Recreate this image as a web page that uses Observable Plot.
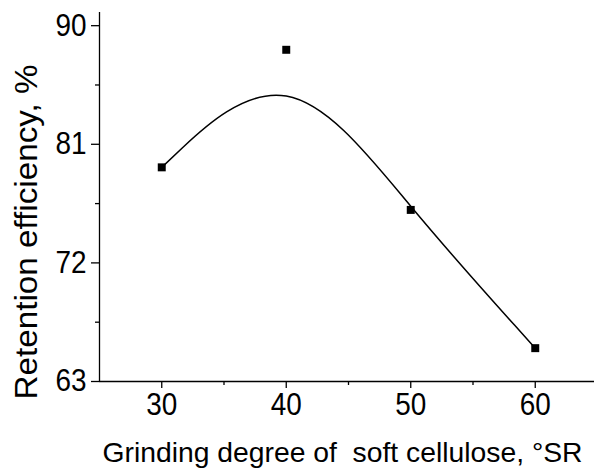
<!DOCTYPE html>
<html>
<head>
<meta charset="utf-8">
<script src="https://cdn.jsdelivr.net/npm/d3@7"></script>
<script src="https://cdn.jsdelivr.net/npm/@observablehq/plot@0.6"></script>
<style>
  html, body { margin: 0; padding: 0; background: #fff; overflow: hidden; }
</style>
</head>
<body>
<div id="chart"></div>
<script>
// Grinding degree (°SR) and measured retention efficiency (%)
const degree = [30, 40, 50, 60];
const retention = [79.25, 88.17, 76.02, 65.53];

// Axis ticks
const xTicks = [30, 40, 50, 60];
const xMinor = [35, 45, 55];
const yTicks = [63, 72, 81, 90];
const yMinor = [67.5, 76.5, 85.5];

const xLabel = "Grinding degree of  soft cellulose, °SR";
const yLabel = "Retention efficiency, %";

const data = degree.map((d, i) => ({degree: d, retention: retention[i]}));
const font = "'Liberation Sans', Arial, Helvetica, sans-serif";

const chart = Plot.plot({
  width: 594,
  height: 471,
  marginLeft: 99,
  marginRight: 0,
  marginTop: 12,
  marginBottom: 90,
  style: {fontFamily: font, background: "#fff", color: "#000"},
  x: {domain: [25, 65], range: [99, 597], label: null},
  y: {domain: [63, 91], range: [381, 12], label: null},
  marks: [
    // major and minor ticks, drawn outward
    Plot.axisX(xTicks, {tickSize: 7, tickPadding: 4, fontSize: 31, strokeWidth: 1.3, label: null}),
    Plot.axisX(xMinor, {tickSize: 4, strokeWidth: 1.3, fill: "none", label: null}),
    Plot.axisY(yTicks, {tickSize: 8, tickPadding: 5, fontSize: 31, strokeWidth: 1.3, label: null}),
    Plot.axisY(yMinor, {tickSize: 4, strokeWidth: 1.3, fill: "none", label: null}),
    // axis lines
    Plot.ruleX([25], {y1: 63, y2: 91, strokeWidth: 1.3}),
    Plot.ruleY([63], {x1: 25, x2: 65, strokeWidth: 1.3}),
    // B-spline through the measured points
    Plot.line(data, {x: "degree", y: "retention", curve: "basis", stroke: "#000", strokeWidth: 1.5}),
    Plot.dot(data, {x: "degree", y: "retention", symbol: "square", r: 4.5, fill: "#000"}),
    // axis titles
    Plot.text([xLabel], {
      frameAnchor: "bottom-left", textAnchor: "start", lineAnchor: "bottom",
      dx: 3, dy: 80, fontSize: 28.3, fill: "#000"
    }),
    Plot.text([yLabel], {
      frameAnchor: "left", textAnchor: "middle", lineAnchor: "bottom", rotate: -90,
      dx: -63, dy: 35, fontSize: 31, fill: "#000"
    })
  ]
});

document.getElementById("chart").appendChild(chart);

// Slightly narrow, tall lettering: squeeze tick labels and stretch the y title
const svg = d3.select(chart);
svg.selectAll('g[aria-label$="tick label"] text').each(function () {
  const w = this.getComputedTextLength();
  d3.select(this).attr("textLength", w * 0.9).attr("lengthAdjust", "spacingAndGlyphs");
});
svg.selectAll('g[aria-label="text"] text').each(function () {
  if (this.textContent === yLabel) {
    d3.select(this).attr("textLength", 335).attr("lengthAdjust", "spacingAndGlyphs");
  }
});
</script>
</body>
</html>
